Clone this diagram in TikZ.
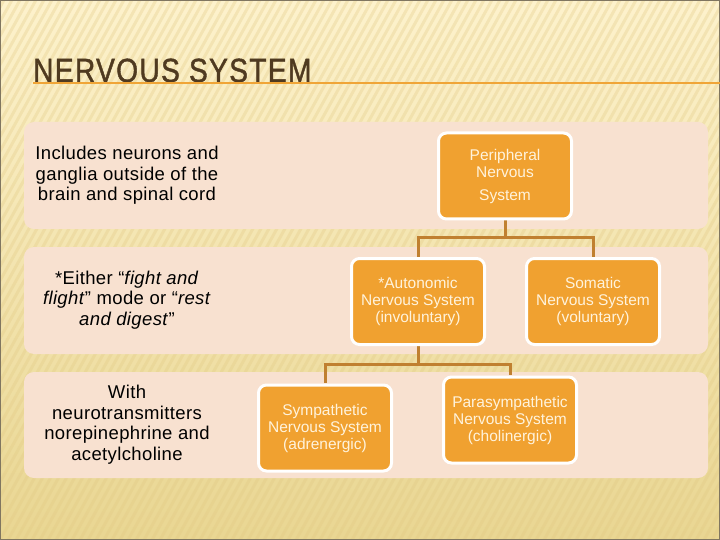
\documentclass[tikz,border=0pt]{standalone}
\usepackage{fontspec}
\setmainfont{Liberation Sans}
\newfontfamily\titlefont[FakeStretch=0.84, FakeBold=1.2, LetterSpace=4]{Liberation Sans}
\newfontfamily\sidefont[LetterSpace=2]{Liberation Sans}
\definecolor{bgtop}{RGB}{253,242,204}
\definecolor{bgbot}{RGB}{233,214,146}
\definecolor{stripec}{RGB}{225,200,130}
\definecolor{bandc}{RGB}{248,225,208}
\definecolor{boxc}{RGB}{240,161,48}
\definecolor{connc}{RGB}{192,128,48}
\definecolor{titlec}{RGB}{79,58,32}
\definecolor{rulec}{RGB}{240,165,55}
\definecolor{boxtext}{RGB}{255,243,220}
\definecolor{framec}{RGB}{128,118,96}
\tikzset{
  band/.style={fill=bandc, rounded corners=10pt},
  stripe/.style={draw=stripec, line width=3pt, opacity=0.3},
  obox/.style={fill=boxc, draw=white, line width=3pt, rounded corners=8pt,
    minimum width=133pt, minimum height=86pt, align=center, inner sep=2pt,
    text=boxtext, font=\fontsize{15.5}{17}\selectfont},
  sidetext/.style={align=center, text=black, inner sep=0pt,
    font=\sidefont\fontsize{18.5}{20.5}\selectfont},
  conn/.style={draw=connc, line width=3pt}
}
\begin{document}
\begin{tikzpicture}[x=1pt,y=-1pt]
\useasboundingbox (0,0) rectangle (720,540);
\shade[top color=bgtop, bottom color=bgbot] (0,0) rectangle (720,540);
\begin{scope}
  \clip (0,0) rectangle (720,540);
  \foreach \i in {-40,...,92} { \draw[stripe] (\i*8,540) -- (\i*8+300,0); }
\end{scope}
\draw[framec, line width=1pt] (0.5,0.5) rectangle (719.5,539.5);

% title
\node[anchor=base west, inner sep=0pt, text=titlec, font=\titlefont\fontsize{33.5}{36}\selectfont] (title) at (33,82) {NERVOUS SYSTEM};
\coordinate (r1) at (33,83.5);
\coordinate (r2) at (720,83.5);
\draw[rulec, line width=2pt] (r1) -- (r2);

% bands
\fill[band] (24,122) rectangle (708,229);
\fill[band] (24,247) rectangle (708,354);
\fill[band] (24,372) rectangle (708,478);

% side texts
\node[sidetext] (t1) at (127,175.5) {Includes neurons and\\ganglia outside of the\\brain and spinal cord};
\node[sidetext] (t2) at (127,300) {*Either “\textit{fight and}\\\textit{flight}” mode or “\textit{rest}\\\textit{and digest}”};
\node[sidetext] (t3) at (127,424.5) {With\\neurotransmitters\\norepinephrine and\\acetylcholine};

% connectors
\coordinate (j1) at (505,237);
\coordinate (j2) at (418,364);
\coordinate (pb) at (505,220);
\coordinate (at) at (418,257);
\coordinate (st) at (593,257);
\coordinate (ab) at (418,346);
\coordinate (syt) at (325,383);
\coordinate (pat) at (510,375);
\draw[conn] (pb) -- (j1);
\draw[conn] (at) |- (j1) -| (st);
\draw[conn] (ab) -- (j2);
\draw[conn] (syt) |- (j2) -| (pat);

% boxes
\node[obox] (P) at (505,176) {Peripheral\\Nervous\\[6pt]System};
\node[obox] (A) at (418,301.5) {*Autonomic\\Nervous System\\(involuntary)};
\node[obox] (S) at (593,301.5) {Somatic\\Nervous System\\(voluntary)};
\node[obox] (Sy) at (325,428) {Sympathetic\\Nervous System\\(adrenergic)};
\node[obox] (Pa) at (510,420) {Parasympathetic\\Nervous System\\(cholinergic)};
\end{tikzpicture}
\end{document}
